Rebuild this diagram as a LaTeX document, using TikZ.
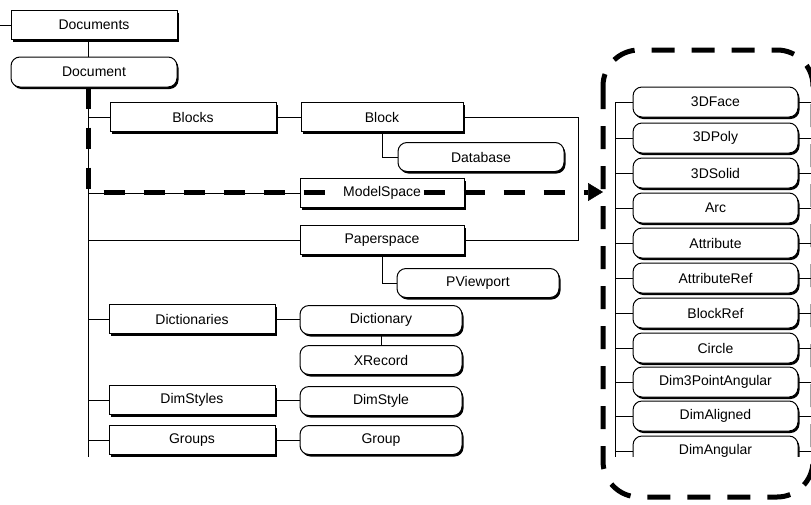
\documentclass[tikz,border=0pt]{standalone}
\usepackage{fontspec}
\setmainfont{Liberation Sans}
\usepackage{tikz}
\usetikzlibrary{arrows.meta,positioning,shadows}

\begin{document}
\begin{tikzpicture}[x=1pt,y=-1pt,
  sq/.style={draw,line width=1pt,fill=white,inner sep=0pt,minimum width=166pt,minimum height=29pt,
    font=\fontsize{14}{16}\selectfont,
    drop shadow={shadow xshift=1.5pt,shadow yshift=-2pt,fill=black,opacity=1}},
  rd/.style={sq,rounded corners=9pt},
  ln/.style={line width=0.9pt},
  arr/.style={line width=5pt,dash pattern=on 21pt off 19pt,
    -{Triangle[length=15pt,width=18pt,line width=0.5pt]}},
  lbl/.style={fill=white,inner sep=1pt,font=\fontsize{14}{16}\selectfont},
  frame/.style={line width=5pt,dash pattern=on 23pt off 17pt,rounded corners=36pt}]
\useasboundingbox (0,0) rectangle (811,504);
\clip (0,0) rectangle (811,504);
\coordinate (trunk) at (88,470);
\coordinate (lt) at (0,25);
\coordinate (rtrunk) at (615,470);
\coordinate (rend) at (811,0);
\coordinate (bend) at (578,117);
\coordinate (hit) at (603,192);
\begin{scope}
\clip (0,0) rectangle (811,456);
\node[sq] (docs) at (94,25) {Documents};
\node[rd,minimum height=30pt] (doc) at (94,72) {Document};
\node[sq] (blocks) at (193,117) {Blocks};
\node[sq,minimum width=162pt] (block) at (382,117) {Block};
\node[rd] (db) at (481,157) {Database};
\node[sq,minimum width=164pt] (ms) at (382,193) {};
\node[sq,minimum width=164pt] (ps) at (382,240) {Paperspace};
\node[rd,minimum width=162pt] (pv) at (478,283) {PViewport};
\node[sq] (dicts) at (192,319) {Dictionaries};
\node[rd,minimum width=162pt] (dict) at (381,320) {Dictionary};
\node[rd,minimum width=162pt] (xrec) at (381,360) {XRecord};
\node[sq] (dims) at (192,400) {DimStyles};
\node[rd,minimum width=162pt] (dim) at (381,401) {DimStyle};
\node[sq] (groups) at (192,440) {Groups};
\node[rd,minimum width=162pt] (group) at (381,440) {Group};
\draw[ln] (lt) -- (docs.west);
\draw[ln] (docs.south -| trunk) -- (doc.north -| trunk);
\draw[ln] (doc.south -| trunk) -- (trunk);
\foreach \n in {blocks,ms,ps,dicts,dims,groups}
  \draw[ln] (\n.west -| trunk) -- (\n.west);
\draw[ln] (blocks) -- (block);
\draw[ln] (block.south) |- (db.west);
\draw[ln] (block.east) -- (bend) |- (ps.east);
\draw[ln] (ps.south) |- (pv.west);
\draw[ln] (dicts.east) -- (dicts.east -| dict.west);
\draw[ln] (dict) -- (xrec);
\draw[ln] (dims.east) -- (dims.east -| dim.west);
\draw[ln] (groups) -- (group);
\foreach \y/\t [count=\i] in {102/3DFace,138/3DPoly,173/3DSolid,208/Arc,243/Attribute,
    278/AttributeRef,313/BlockRef,348/Circle,382/Dim3PointAngular,416/DimAligned,451/DimAngular} {
  \node[rd,minimum width=165pt,minimum height=30pt] (e\i) at (715.5,\y) {\t};
  \draw[ln] (e\i.west -| rtrunk) -- (e\i.west);
  \draw[ln] (e\i.east) -- (e\i.east -| rend);
}
\draw[ln] (e1.west -| rtrunk) -- (rtrunk);
\end{scope}
\draw[arr] (doc.south -| trunk) |- (hit);
\node[lbl] at (ms) {ModelSpace};
\draw[frame] (603,50) rectangle (813,497);
\end{tikzpicture}
\end{document}
